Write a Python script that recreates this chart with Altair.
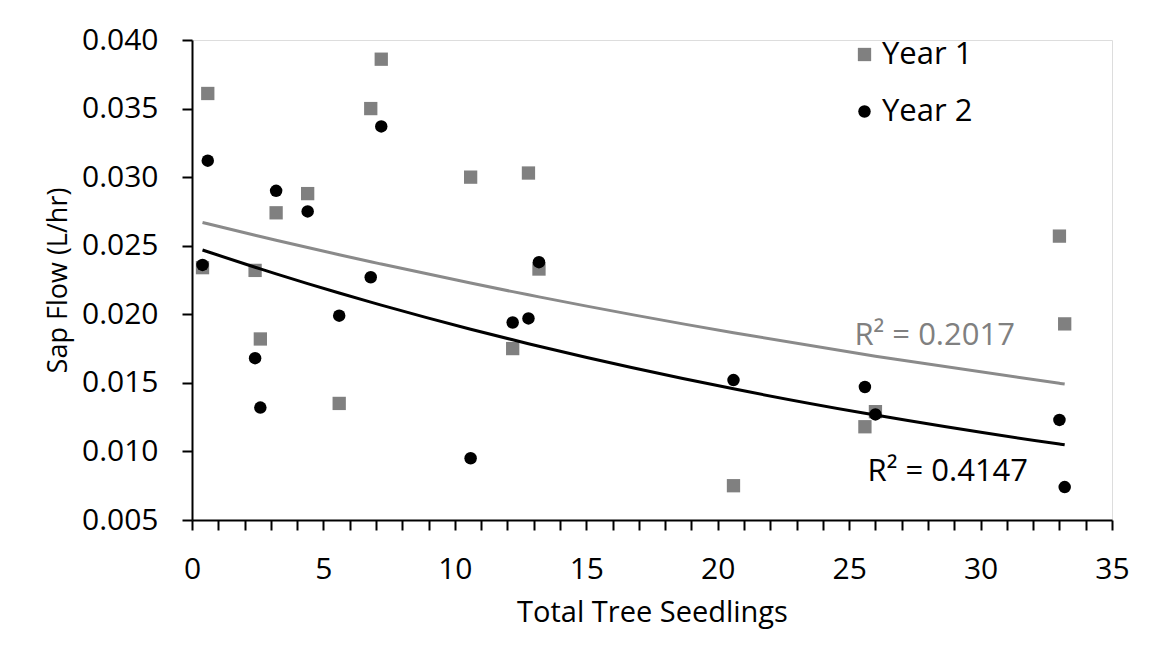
import altair as alt
import pandas as pd

# Year 1 (grey squares)
y1_x = [0.4, 0.6, 2.4, 2.6, 3.2, 4.4, 5.6, 6.8, 7.2, 10.6, 12.2, 12.8, 13.2, 20.6, 25.6, 26.0, 33.0, 33.2]
y1_y = [0.0234, 0.0361, 0.0232, 0.0182, 0.0274, 0.0288, 0.0135, 0.0350, 0.0386, 0.0300, 0.0175, 0.0303,
        0.0233, 0.0075, 0.0118, 0.0129, 0.0257, 0.0193]
# Year 2 (black circles)
y2_x = [0.4, 0.6, 2.4, 2.6, 3.2, 4.4, 5.6, 6.8, 7.2, 10.6, 12.2, 12.8, 13.2, 20.6, 25.6, 26.0, 33.0, 33.2]
y2_y = [0.0236, 0.0312, 0.0168, 0.0132, 0.0290, 0.0275, 0.0199, 0.0227, 0.0337, 0.0095, 0.0194, 0.0197,
        0.0238, 0.0152, 0.0147, 0.0127, 0.0123, 0.0074]

series_names = ["Year 1", "Year 2"]
r2_labels = ["R\u00b2 = 0.2017", "R\u00b2 = 0.4147"]
r2_x = [25.2, 25.7]
r2_y = [0.01776, 0.00784]

x_tick_values = list(range(0, 36))
y_tick_values = [0.005, 0.010, 0.015, 0.020, 0.025, 0.030, 0.035, 0.040]

FONT = "Open Sans"
GREY = "#808080"
GREY_LINE = "#8a8a8a"

df = pd.DataFrame(
    {"x": y1_x + y2_x,
     "y": y1_y + y2_y,
     "series": [series_names[0]] * len(y1_x) + [series_names[1]] * len(y2_x)}
)
df_r2 = pd.DataFrame({"label": r2_labels, "x": r2_x, "y": r2_y, "series": series_names})

xscale = alt.Scale(domain=[0, 35], nice=False)
yscale = alt.Scale(domain=[0.005, 0.040], nice=False)

xaxis = alt.Axis(
    title="Total Tree Seedlings", values=x_tick_values,
    labelExpr="datum.value % 5 === 0 ? datum.label : ''",
    format="d", grid=False, tickSize=10, tickWidth=2, tickColor="black",
    domainColor="black", domainWidth=2, labelFontSize=30, labelFont=FONT,
    labelColor="black", labelPadding=24, labelOverlap=False, labelFlush=False, labelBound=False,
    titleFont=FONT, titleFontSize=29,
    titleFontWeight="normal", titleColor="black", titlePadding=14,
)
yaxis = alt.Axis(
    title="Sap Flow (L/hr)", values=y_tick_values,
    format=".3f", grid=False, tickSize=10, tickWidth=2, tickColor="black",
    domainColor="black", domainWidth=2, labelFontSize=30, labelFont=FONT,
    labelColor="black", labelPadding=24, labelOverlap=False, labelFlush=False,
    titleFont=FONT, titleFontSize=27,
    titleFontWeight="normal", titleColor="black", titlePadding=9,
)

X = alt.X("x:Q", scale=xscale, axis=xaxis)
Y = alt.Y("y:Q", scale=yscale, axis=yaxis)
YFIT = alt.Y("fit:Q", scale=yscale, axis=yaxis)

base = alt.Chart(df)

points = base.mark_point(filled=True, opacity=1).encode(
    x=X, y=Y,
    color=alt.Color("series:N", scale=alt.Scale(domain=series_names, range=[GREY, "black"]),
                    legend=alt.Legend(title=None, orient="none", legendX=657, legendY=-1,
                                      labelFont=FONT, labelFontSize=31, labelColor="black",
                                      symbolSize=130, labelOffset=2, rowPadding=25,
                                      padding=0, symbolStrokeWidth=0)),
    shape=alt.Shape("series:N", scale=alt.Scale(domain=series_names, range=["square", "circle"])),
    size=alt.Size("series:N", scale=alt.Scale(domain=series_names, range=[177, 156]), legend=None),
)

# Exponential trendline, fitted as ln(y) = a + b*x by ordinary least squares (as in Excel)
trend = base.transform_calculate(
    ly="log(datum.y)", xly="datum.x * log(datum.y)", x2="datum.x * datum.x"
).transform_joinaggregate(
    mx="mean(x)", mly="mean(ly)", mxly="mean(xly)", mx2="mean(x2)", groupby=["series"]
).transform_calculate(
    b="(datum.mxly - datum.mx * datum.mly) / (datum.mx2 - datum.mx * datum.mx)"
).transform_calculate(
    fit="exp(datum.mly - datum.b * datum.mx + datum.b * datum.x)"
)

line1 = trend.transform_filter(alt.datum.series == series_names[0]).mark_line(
    color=GREY_LINE, strokeWidth=3, interpolate="monotone"
).encode(x=X, y=YFIT, order="x:Q")

line2 = trend.transform_filter(alt.datum.series == series_names[1]).mark_line(
    color="black", strokeWidth=3, interpolate="monotone"
).encode(x=X, y=YFIT, order="x:Q")

r2_text = alt.Chart(df_r2).mark_text(align="left", baseline="alphabetic", font=FONT, fontSize=31).encode(
    x=X, y=Y, text="label:N",
    color=alt.Color("series:N", scale=alt.Scale(domain=series_names, range=[GREY, "black"]), legend=None),
)

chart = alt.layer(points, line1, line2, r2_text).properties(
    width=920, height=480,
    autosize=alt.AutoSizeParams(type="none"),
    padding={"left": 192, "top": 40, "right": 40, "bottom": 144},
).configure_view(stroke=None).configure(background="white")

chart.save("out.html", embed_options={"renderer": "svg", "actions": False})
